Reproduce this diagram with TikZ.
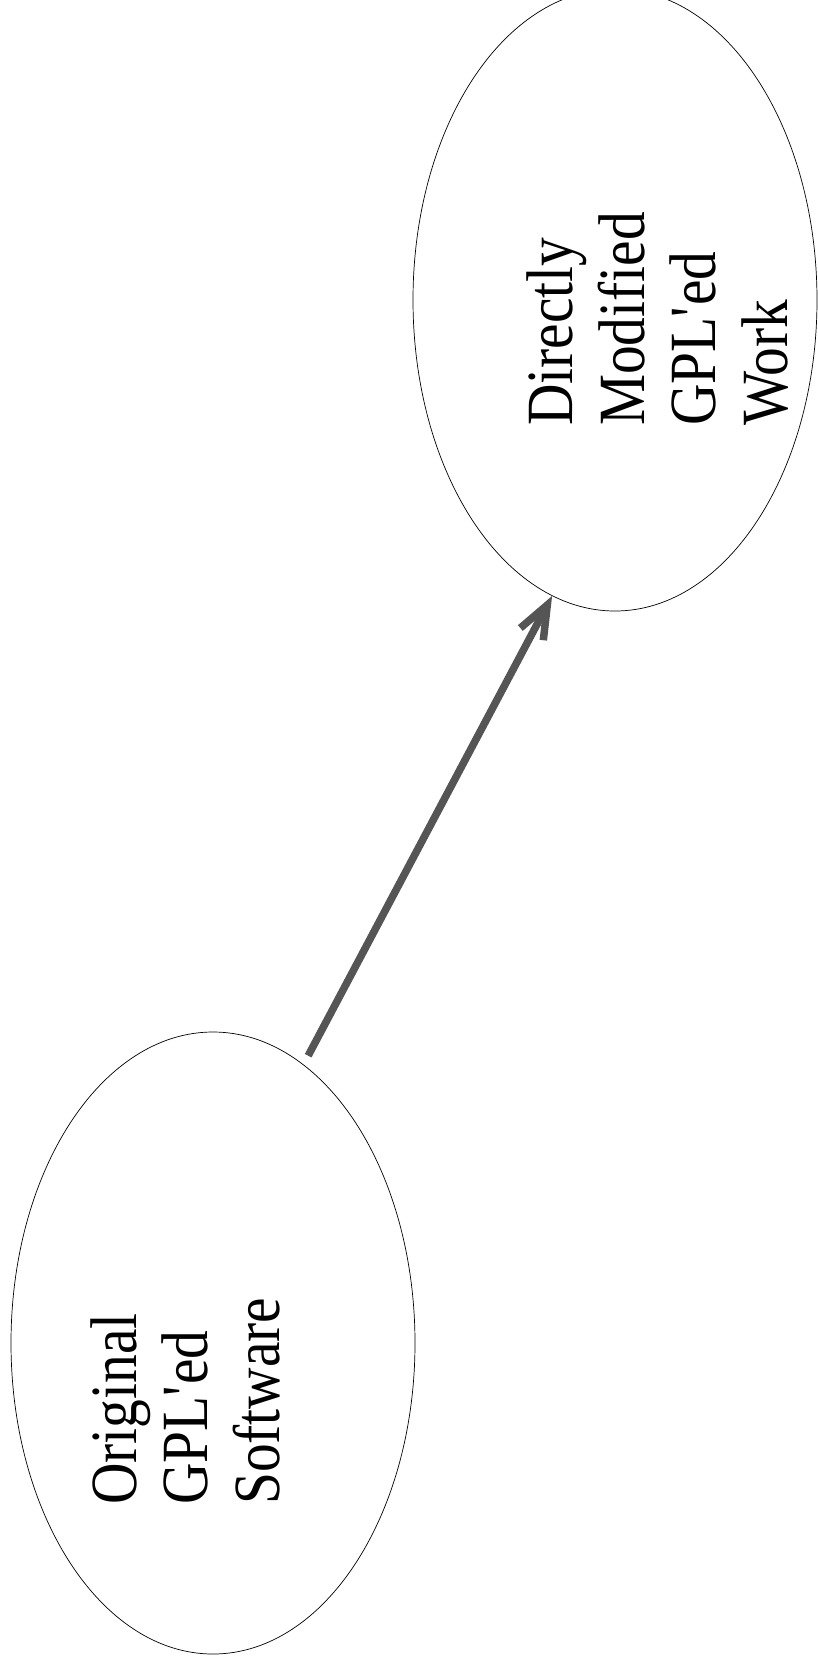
\documentclass[tikz,border=0pt]{standalone}
\usepackage{fontspec}
\setmainfont{Liberation Serif}[FakeStretch=0.87]
\usetikzlibrary{shapes.geometric,arrows.meta}
\definecolor{arrowgray}{RGB}{85,85,85}
\begin{document}
\begin{tikzpicture}[x=1pt,y=1pt,
  blob/.style={ellipse, draw=black, line width=0.7pt, minimum width=404pt, minimum height=622pt, inner sep=0pt},
  lbl/.style={rotate=90, anchor=base west, align=left, inner sep=0pt, font=\fontsize{66}{71.5}\selectfont},
  link/.style={draw=arrowgray, line width=7.5pt, -{Straight Barb[length=33pt,width=26pt,line width=7.5pt]}}]
\fill[white] (0,0) rectangle (817,-1667);
\path[use as bounding box] (0,0) rectangle (817,-1667);
\node[blob] (orig) at (213,-1343) {};
\node[blob] (mod) at (615,-300) {};
\node[lbl] (origtext) at (279,-1505) {Original\\GPL\textquotesingle ed\\Software};
\node[lbl] (modtext) at (787,-426) {Directly\\Modified\\GPL\textquotesingle ed\\Work};
\draw[link, shorten <=10pt] (orig.72.8) -- (mod.258.6);
\end{tikzpicture}
\end{document}
